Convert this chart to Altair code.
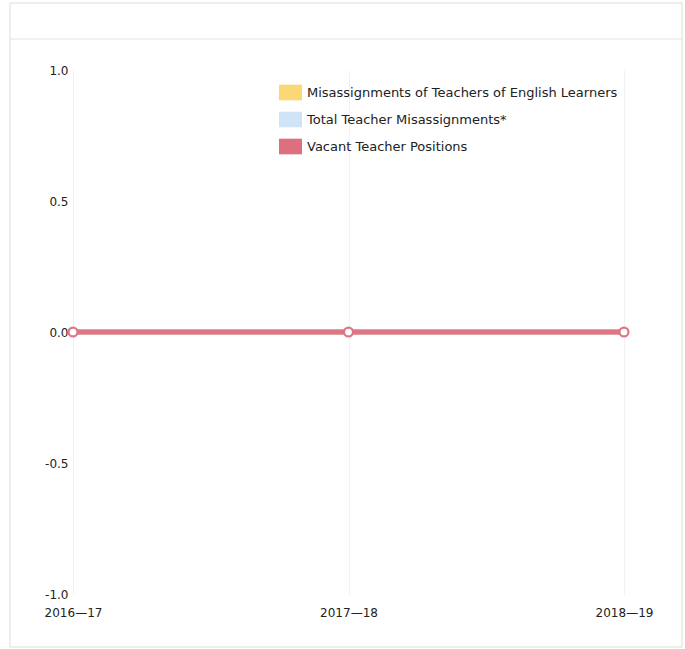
import altair as alt
import pandas as pd

# School years on the x axis
years = ["2016\u201417", "2017\u201418", "2018\u201419"]

# Series names (legend order) and their colours
series = [
    "Misassignments of Teachers of English Learners",
    "Total Teacher Misassignments*",
    "Vacant Teacher Positions",
]
colors = ["#fcd776", "#cfe4f7", "#dd6f7e"]

# Counts per year for each series
el_misassign = [0, 0, 0]
total_misassign = [0, 0, 0]
vacant = [0, 0, 0]

rows = []
for name, vals in zip(series, [el_misassign, total_misassign, vacant]):
    for yr, v in zip(years, vals):
        rows.append({"year": yr, "series": name, "value": v})
df = pd.DataFrame(rows)

FONT = "DejaVu Sans"
W, H = 551, 524
PAD = {"left": 73, "top": 70, "right": 61, "bottom": 55}

x_enc = alt.X(
    "year:N",
    sort=years,
    scale=alt.Scale(type="point", padding=0),
    axis=alt.Axis(
        title=None, labelAngle=0, domain=False, ticks=False,
        labelPadding=13, labelFont=FONT, labelFontSize=12, labelColor="#222",
        grid=True, gridColor="#f1f1f1", gridWidth=1,
    ),
)
y_enc = alt.Y(
    "value:Q",
    scale=alt.Scale(domain=[-1, 1], nice=False, zero=False),
    axis=alt.Axis(
        title=None, values=[-1, -0.5, 0, 0.5, 1],
        labelExpr="datum.value < 0 ? '-' + format(-datum.value, '.1f') : format(datum.value, '.1f')",
        domain=False, ticks=False, grid=False, labelPadding=5,
        labelFont=FONT, labelFontSize=12, labelColor="#222",
    ),
)
color_scale = alt.Scale(domain=series, range=colors)

base = alt.Chart(df)

# Lines drawn one series at a time so the vacancy line sits on top
line_layers = [
    base.transform_filter(alt.datum.series == name)
    .mark_line(strokeWidth=5, color=col)
    .encode(x=x_enc, y=y_enc)
    for name, col in zip(series, ["#f3cf6a", "#b9b3dc", "#de7683"])
]

# Tiny squares carrying the legend, hidden under the lines
legend_layer = base.mark_square(size=1, opacity=1).encode(
    x=x_enc,
    y=y_enc,
    fill=alt.Fill(
        "series:N",
        scale=color_scale,
        legend=alt.Legend(
            title=None, orient="none", legendX=206, legendY=11,
            symbolType="M-1,-0.68L1,-0.68L1,0.68L-1,0.68Z",
            symbolSize=529, symbolStrokeWidth=0, symbolOpacity=1,
            labelFont=FONT, labelFontSize=13, labelColor="#222",
            labelOffset=5, rowPadding=7, padding=0, labelLimit=400,
        ),
    ),
)

# Vacancy markers: white dots with a red ring
points = (
    base.transform_filter(alt.datum.series == series[2])
    .mark_point(filled=True, fill="white", stroke="#de7683",
                strokeWidth=2.2, size=80, opacity=1)
    .encode(x=x_enc, y=y_enc)
)

frame_df = pd.DataFrame({"k": [0]})
frame = alt.Chart(frame_df).mark_rect(
    fill=None, stroke="#dcdcdc", strokeWidth=1
).encode(
    x=alt.value(-63), x2=alt.value(609), y=alt.value(-67), y2=alt.value(577)
)
header_rule = alt.Chart(frame_df).mark_rule(stroke="#e2e2e2", strokeWidth=1).encode(
    x=alt.value(-63), x2=alt.value(609), y=alt.value(-31)
)

chart = (
    alt.layer(frame, header_rule, legend_layer, *line_layers, points)
    .properties(
        width=W, height=H,
        autosize=alt.AutoSizeParams(type="none"),
        padding=PAD,
        background="white",
    )
    .configure_view(stroke=None)
)

chart.save("out.html", embed_options={"renderer": "svg", "actions": False})
